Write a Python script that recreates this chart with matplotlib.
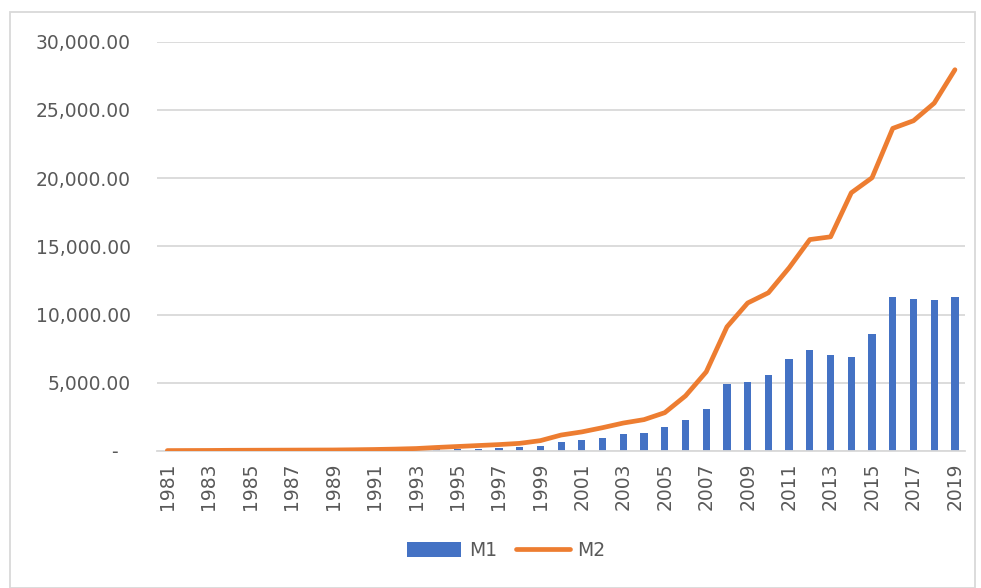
import numpy as np
import matplotlib
matplotlib.use('Agg')
import matplotlib.pyplot as plt
from matplotlib.ticker import FuncFormatter, MultipleLocator
from matplotlib.patches import Rectangle

years = list(range(1981, 2020))
m1 = [10, 12, 15, 18, 22, 26, 30, 35, 40, 50, 60, 75, 95, 120, 150, 180, 230, 280, 370,
      660, 785, 930, 1220, 1320, 1760, 2300, 3110, 4890, 5040, 5570, 6750, 7410, 7020,
      6890, 8600, 11270, 11170, 11070, 11270]
m2 = [30, 35, 40, 50, 55, 60, 65, 70, 75, 90, 110, 140, 180, 260, 330, 400, 470, 560, 760,
      1170, 1400, 1710, 2050, 2300, 2810, 4040, 5800, 9100, 10850, 11600, 13430, 15500, 15700,
      18930, 20030, 23650, 24210, 25500, 27950]

grey = '#595959'
x = np.arange(len(years))

fig = plt.figure(figsize=[9.81, 5.88], dpi=100)
ax = fig.add_axes([0.160, 0.233, 0.824, 0.696])

bars = ax.bar(x, m1, width=0.35, color='#4472C4', label='M1', zorder=2)
line, = ax.plot(x, m2, color='#ED7D31', linewidth=3.4, solid_capstyle='round', label='M2', zorder=3)

ax.set_xlim(-0.5, len(years) - 0.5)
ax.set_ylim(0, 30000)
ax.yaxis.set_major_locator(MultipleLocator(5000))
ax.yaxis.set_major_formatter(FuncFormatter(lambda v, p: '-  ' if v == 0 else f'{v:,.2f}'))
ax.grid(axis='y', color='#D9D9D9', linewidth=1.3, zorder=0)

ax.set_xticks(x[::2])
ax.set_xticklabels([str(y) for y in years[::2]], rotation=90)
ax.tick_params(axis='both', length=0, labelsize=13.5, labelcolor=grey)
ax.tick_params(axis='x', pad=8)
ax.tick_params(axis='y', pad=19)

for s in ['top', 'right', 'left']:
    ax.spines[s].set_visible(False)
ax.spines['bottom'].set_color('#D9D9D9')
ax.spines['bottom'].set_linewidth(1.3)

leg = fig.legend([bars, line], ['M1', 'M2'], loc='center', bbox_to_anchor=(0.516, 0.063), ncol=2,
                 frameon=False, fontsize=13.5, handlelength=2.9, handleheight=0.85,
                 columnspacing=1.0, handletextpad=0.4)
for t in leg.get_texts():
    t.set_color(grey)

# chart area border
fig.patches.append(Rectangle((10 / 981, 0.0), 965 / 981, 1 - 12 / 588, transform=fig.transFigure,
                             fill=False, edgecolor='#D9D9D9', linewidth=1.3))

fig.savefig('out.png', dpi=100)
